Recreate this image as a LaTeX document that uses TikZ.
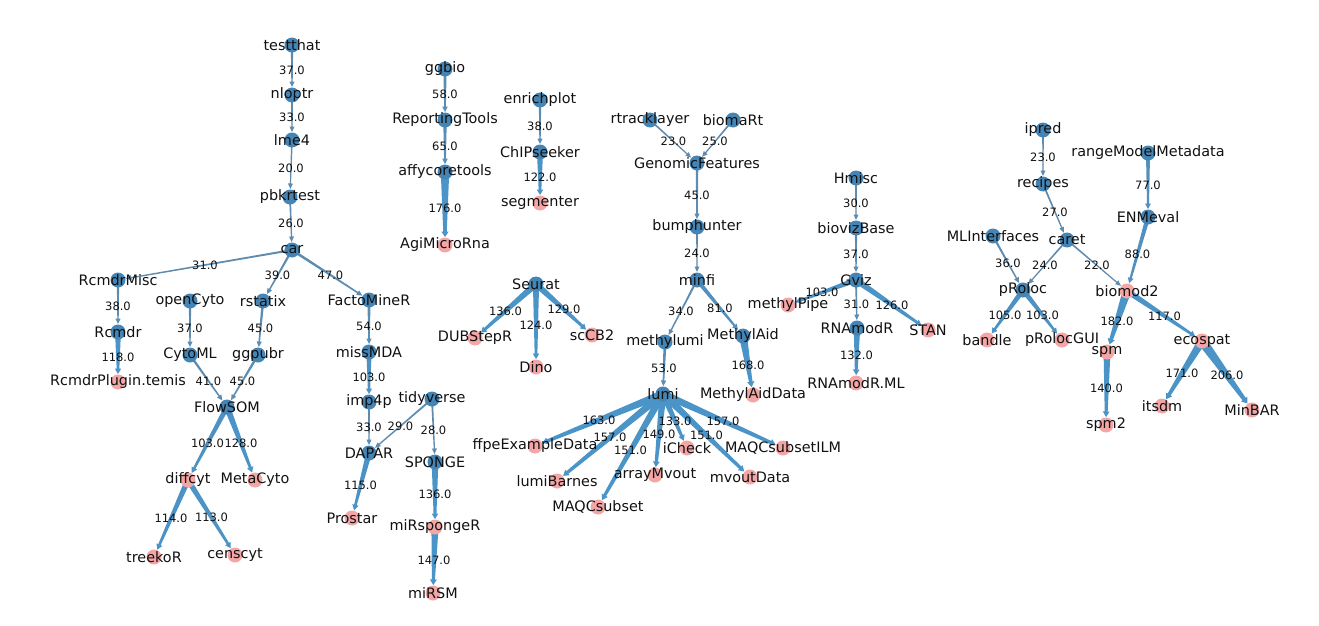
\documentclass[tikz,border=0pt]{standalone}
\usepackage{fontspec}
\setmainfont{DejaVu Sans}
\usetikzlibrary{calc}
\definecolor{nblue}{HTML}{4585B5}
\definecolor{npink}{HTML}{F4A6A6}
\definecolor{ethick}{HTML}{4A94C8}
\definecolor{ethin}{HTML}{6688A6}
\definecolor{tcol}{HTML}{111111}
\pgfdeclarelayer{edgelayer}
\pgfsetlayers{edgelayer,main}
\tikzset{
  pk/.style={circle, fill=npink, minimum size=15pt, inner sep=0pt},
  bl/.style={circle, fill=nblue, minimum size=15pt, inner sep=0pt},
  nlbl/.style={font=\fontsize{14.4}{16}\selectfont, text=tcol, inner sep=0pt},
  elbl/.style={font=\fontsize{11.5}{13}\selectfont, text=tcol, inner sep=0pt},
}
\newcommand\nd[4]{\node[#1, label={[nlbl]center:#4}] (#2) at (#3) {};}
\newcommand\ed[3]{%
  \pgfmathsetlengthmacro\ehw{0.35pt+#3*0.022pt}%
  \pgfmathsetlengthmacro\ehb{0.3pt+0.35*\ehw}%
  \pgfmathsetlengthmacro\eha{\ehb+1.9pt}%
  \pgfmathtruncatemacro\emix{min(100,#3/1.2)}%
  \begin{pgfonlayer}{edgelayer}
  \coordinate (eb) at ($(#2.center)!13.5pt!(#1.center)$);
  \coordinate (et) at ($(#2.center)!8pt!(#1.center)$);
  \fill[ethick!\emix!ethin] ($(#1.center)!\ehw!90:(#2.center)$) -- ($(eb)!\ehb!90:(#2.center)$)
     -- ($(eb)!\eha!90:(#2.center)$) -- (et) -- ($(eb)!\eha!-90:(#2.center)$)
     -- ($(eb)!\ehb!-90:(#2.center)$) -- ($(#1.center)!\ehw!-90:(#2.center)$) -- cycle;
  \end{pgfonlayer}
  \node[elbl] at ($(#1.center)!0.5!(#2.center)$) {#3.0};
}
\begin{document}
\begin{tikzpicture}[x=1pt,y=-1pt]
\useasboundingbox (0,0) rectangle (1319,626);
% cluster 1
\nd{bl}{testthat}{292,45}{testthat}
\nd{bl}{nloptr}{292,95}{nloptr}
\nd{bl}{lme4}{292,140}{lme4}
\nd{bl}{pbkrtest}{290,197}{pbkrtest}
\nd{bl}{car}{292,250}{car}
\nd{bl}{RcmdrMisc}{118,280}{RcmdrMisc}
\nd{bl}{Rcmdr}{118,332}{Rcmdr}
\nd{pk}{RcmdrPT}{118,382}{RcmdrPlugin.temis}
\nd{bl}{openCyto}{190,301}{openCyto}
\nd{bl}{CytoML}{190,355}{CytoML}
\nd{bl}{rstatix}{263,301}{rstatix}
\nd{bl}{ggpubr}{258,355}{ggpubr}
\nd{bl}{FlowSOM}{227,407}{FlowSOM}
\nd{pk}{diffcyt}{188,480}{diffcyt}
\nd{pk}{MetaCyto}{255,480}{MetaCyto}
\nd{pk}{treekoR}{154,557}{treekoR}
\nd{pk}{censcyt}{235,555}{censcyt}
\nd{bl}{FactoMineR}{369,300}{FactoMineR}
\nd{bl}{missMDA}{369,352}{missMDA}
\nd{bl}{imp4p}{369,402}{imp4p}
\nd{bl}{tidyverse}{432,399}{tidyverse}
\nd{bl}{DAPAR}{369,453}{DAPAR}
\nd{bl}{SPONGE}{435,462}{SPONGE}
\nd{pk}{Prostar}{352,518}{Prostar}
\nd{pk}{miRspongeR}{435,527}{miRspongeR}
\nd{pk}{miRSM}{433,593}{miRSM}
% ggbio
\nd{bl}{ggbio}{445,69}{ggbio}
\nd{bl}{ReportingTools}{445,120}{ReportingTools}
\nd{bl}{affycoretools}{445,172}{affycoretools}
\nd{pk}{AgiMicroRna}{445,245}{AgiMicroRna}
% enrichplot
\nd{bl}{enrichplot}{540,100}{enrichplot}
\nd{bl}{ChIPseeker}{540,152}{ChIPseeker}
\nd{pk}{segmenter}{540,203}{segmenter}
% Seurat
\nd{bl}{Seurat}{536,284}{Seurat}
\nd{pk}{DUBStepR}{475,338}{DUBStepR}
\nd{pk}{Dino}{536,367}{Dino}
\nd{pk}{scCB2}{592,335}{scCB2}
% GenomicFeatures
\nd{bl}{rtracklayer}{650,120}{rtracklayer}
\nd{bl}{biomaRt}{733,120}{biomaRt}
\nd{bl}{GenomicFeatures}{697,163}{GenomicFeatures}
\nd{bl}{bumphunter}{697,227}{bumphunter}
\nd{bl}{minfi}{697,280}{minfi}
\nd{bl}{methylumi}{665,342}{methylumi}
\nd{bl}{MethylAid}{743,336}{MethylAid}
\nd{bl}{lumi}{663,394}{lumi}
\nd{pk}{MethylAidData}{753,395}{MethylAidData}
\nd{pk}{ffpeExampleData}{535,446}{ffpeExampleData}
\nd{pk}{lumiBarnes}{557,481}{lumiBarnes}
\nd{pk}{MAQCsubset}{598,507}{MAQCsubset}
\nd{pk}{arrayMvout}{655,475}{arrayMvout}
\nd{pk}{iCheck}{687,448}{iCheck}
\nd{pk}{mvoutData}{750,477}{mvoutData}
\nd{pk}{MAQCsubsetILM}{783,448}{MAQCsubsetILM}
% Gviz
\nd{bl}{Hmisc}{856,178}{Hmisc}
\nd{bl}{biovizBase}{856,228}{biovizBase}
\nd{bl}{Gviz}{856,280}{Gviz}
\nd{pk}{methylPipe}{788,305}{methylPipe}
\nd{bl}{RNAmodR}{857,328}{RNAmodR}
\nd{pk}{STAN}{928,330}{STAN}
\nd{pk}{RNAmodRML}{856,383}{RNAmodR.ML}
% right cluster
\nd{bl}{ipred}{1043,130}{ipred}
\nd{bl}{recipes}{1043,184}{recipes}
\nd{bl}{caret}{1067,240}{caret}
\nd{bl}{MLInterfaces}{993,236}{MLInterfaces}
\nd{bl}{rangeModelMetadata}{1148,153}{rangeModelMetadata}
\nd{bl}{ENMeval}{1148,217}{ENMeval}
\nd{bl}{pRoloc}{1023,290}{pRoloc}
\nd{pk}{biomod2}{1127,291}{biomod2}
\nd{pk}{bandle}{987,340}{bandle}
\nd{pk}{pRolocGUI}{1062,340}{pRolocGUI}
\nd{pk}{spm}{1107,352}{spm}
\nd{pk}{ecospat}{1202,341}{ecospat}
\nd{pk}{spm2}{1106,425}{spm2}
\nd{pk}{itsdm}{1162,406}{itsdm}
\nd{pk}{MinBAR}{1252,410}{MinBAR}
% edges
\ed{testthat}{nloptr}{37}
\ed{nloptr}{lme4}{33}
\ed{lme4}{pbkrtest}{20}
\ed{pbkrtest}{car}{26}
\ed{car}{RcmdrMisc}{31}
\ed{car}{rstatix}{39}
\ed{car}{FactoMineR}{47}
\ed{RcmdrMisc}{Rcmdr}{38}
\ed{Rcmdr}{RcmdrPT}{118}
\ed{openCyto}{CytoML}{37}
\ed{rstatix}{ggpubr}{45}
\ed{CytoML}{FlowSOM}{41}
\ed{ggpubr}{FlowSOM}{45}
\ed{FlowSOM}{diffcyt}{103}
\ed{FlowSOM}{MetaCyto}{128}
\ed{diffcyt}{treekoR}{114}
\ed{diffcyt}{censcyt}{113}
\ed{FactoMineR}{missMDA}{54}
\ed{missMDA}{imp4p}{103}
\ed{imp4p}{DAPAR}{33}
\ed{tidyverse}{DAPAR}{29}
\ed{tidyverse}{SPONGE}{28}
\ed{DAPAR}{Prostar}{115}
\ed{SPONGE}{miRspongeR}{136}
\ed{miRspongeR}{miRSM}{147}
\ed{ggbio}{ReportingTools}{58}
\ed{ReportingTools}{affycoretools}{65}
\ed{affycoretools}{AgiMicroRna}{176}
\ed{enrichplot}{ChIPseeker}{38}
\ed{ChIPseeker}{segmenter}{122}
\ed{Seurat}{DUBStepR}{136}
\ed{Seurat}{Dino}{124}
\ed{Seurat}{scCB2}{129}
\ed{rtracklayer}{GenomicFeatures}{23}
\ed{biomaRt}{GenomicFeatures}{25}
\ed{GenomicFeatures}{bumphunter}{45}
\ed{bumphunter}{minfi}{24}
\ed{minfi}{methylumi}{34}
\ed{minfi}{MethylAid}{81}
\ed{methylumi}{lumi}{53}
\ed{MethylAid}{MethylAidData}{168}
\ed{lumi}{ffpeExampleData}{163}
\ed{lumi}{lumiBarnes}{157}
\ed{lumi}{MAQCsubset}{151}
\ed{lumi}{arrayMvout}{149}
\ed{lumi}{iCheck}{133}
\ed{lumi}{mvoutData}{151}
\ed{lumi}{MAQCsubsetILM}{157}
\ed{Hmisc}{biovizBase}{30}
\ed{biovizBase}{Gviz}{37}
\ed{Gviz}{methylPipe}{103}
\ed{Gviz}{RNAmodR}{31}
\ed{Gviz}{STAN}{126}
\ed{RNAmodR}{RNAmodRML}{132}
\ed{ipred}{recipes}{23}
\ed{recipes}{caret}{27}
\ed{rangeModelMetadata}{ENMeval}{77}
\ed{MLInterfaces}{pRoloc}{36}
\ed{caret}{pRoloc}{24}
\ed{caret}{biomod2}{22}
\ed{ENMeval}{biomod2}{88}
\ed{pRoloc}{bandle}{105}
\ed{pRoloc}{pRolocGUI}{103}
\ed{biomod2}{spm}{182}
\ed{biomod2}{ecospat}{117}
\ed{spm}{spm2}{140}
\ed{ecospat}{itsdm}{171}
\ed{ecospat}{MinBAR}{206}
\end{tikzpicture}
\end{document}
